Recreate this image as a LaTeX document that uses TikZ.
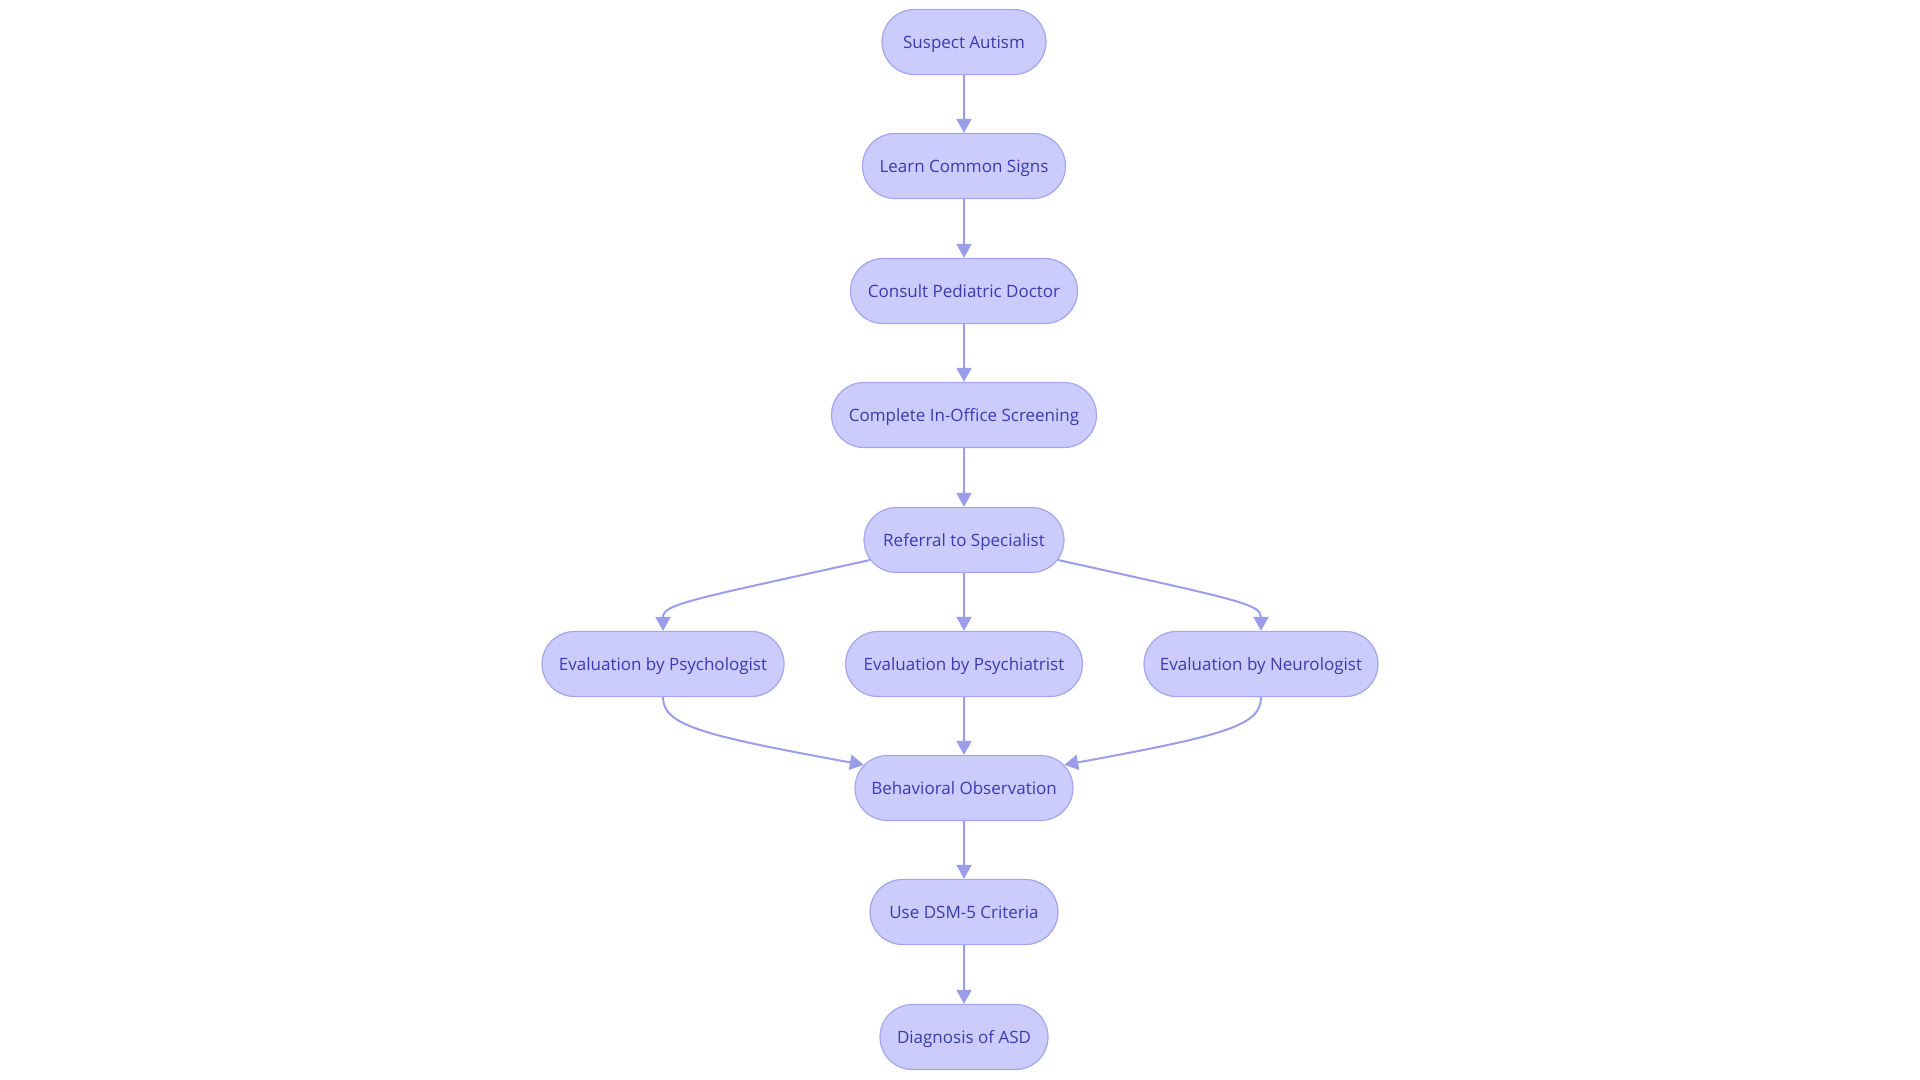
\documentclass[tikz,border=0pt]{standalone}
\usepackage{fontspec}
\setmainfont{Open Sans}
\usetikzlibrary{arrows.meta,shapes.misc}
\definecolor{nodefill}{HTML}{CBCCFC}
\definecolor{nodeline}{HTML}{A3A6EC}
\definecolor{nodetext}{HTML}{3B3BAE}
\definecolor{edgecol}{HTML}{9A9EE8}
\begin{document}
\begin{tikzpicture}[x=0.5pt,y=-0.5pt,
  box/.style={draw=nodeline, fill=nodefill, line width=0.6pt, rounded rectangle,
    minimum height=32.5pt, inner xsep=2pt, inner ysep=0pt, text=nodetext,
    text height=7pt, text depth=0.9pt,
    font=\fontsize{8.5}{10}\selectfont},
  edge/.style={draw=edgecol, line width=1pt, -{Triangle[length=7pt,width=7.5pt]}}]
\useasboundingbox (0,0) rectangle (1920,1080);
\node[box, minimum width=86pt] (n1) at (964,42) {Suspect Autism};
\node[box, minimum width=105.5pt] (n2) at (964,166) {Learn Common Signs};
\node[box, minimum width=117.5pt] (n3) at (964,291) {Consult Pediatric Doctor};
\node[box, minimum width=136.5pt] (n4) at (964,415) {Complete In-Office Screening};
\node[box, minimum width=104pt] (n5) at (964,540) {Referral to Specialist};
\node[box, minimum width=125pt] (n6) at (663,664) {Evaluation by Psychologist};
\node[box, minimum width=122.5pt] (n7) at (964,664) {Evaluation by Psychiatrist};
\node[box, minimum width=121pt] (n8) at (1261,664) {Evaluation by Neurologist};
\node[box, minimum width=113pt] (n9) at (964,788) {Behavioral Observation};
\node[box, minimum width=98pt] (n10) at (964,912) {Use DSM-5 Criteria};
\node[box, minimum width=88pt] (n11) at (964,1037) {Diagnosis of ASD};
\draw[edge] (n1) -- (n2);
\draw[edge] (n2) -- (n3);
\draw[edge] (n3) -- (n4);
\draw[edge] (n4) -- (n5);
\draw[edge] (n5) -- (n7);
\draw[edge] (n5.192) .. controls (690,600) and (663,604) .. (n6.north);
\draw[edge] (n5.348) .. controls (1238,600) and (1261,604) .. (n8.north);
\draw[edge] (n7) -- (n9);
\draw[edge] (n6.south) .. controls (663,725) and (700,735) .. (n9.167);
\draw[edge] (n8.south) .. controls (1261,725) and (1228,735) .. (n9.13);
\draw[edge] (n9) -- (n10);
\draw[edge] (n10) -- (n11);
\end{tikzpicture}
\end{document}
